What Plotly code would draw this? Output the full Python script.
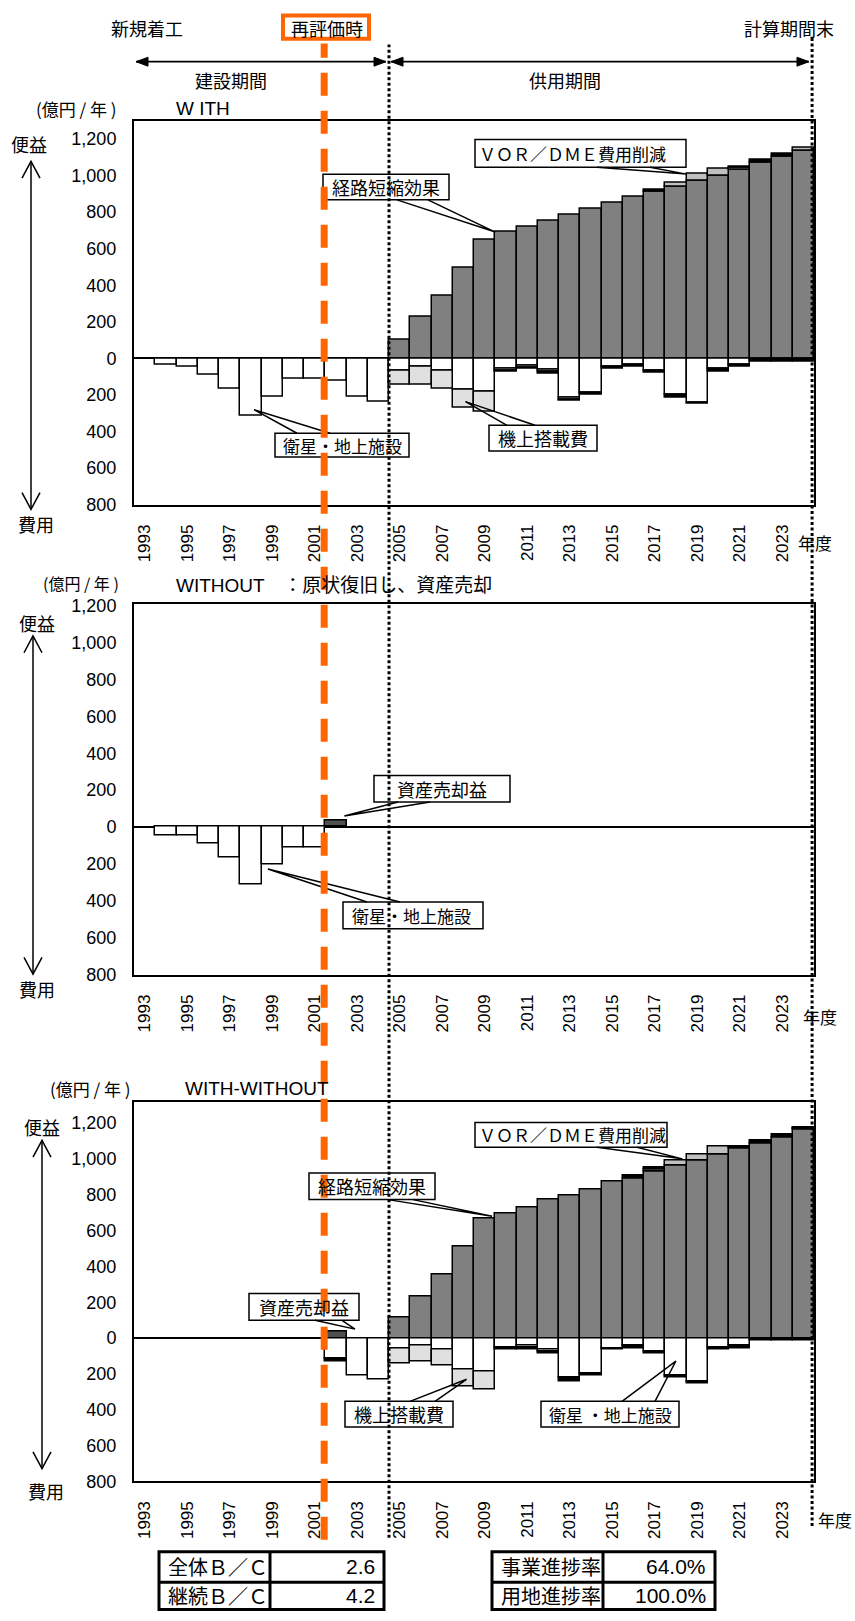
import plotly.graph_objects as go

W, H = 855, 1621

# ---------------- data ----------------
years = list(range(1993, 2025))
tick_years = list(range(1993, 2024, 2))
tick_labels = [str(y) for y in tick_years]
y_vals = [-800, -600, -400, -200, 0, 200, 400, 600, 800, 1000, 1200]
y_labels = ["800", "600", "400", "200", "0", "200", "400", "600", "800", "1,000", "1,200"]

# WITH
with_route = [0] * 12 + [105, 228, 345, 495, 647, 691, 723, 754, 786, 818, 851, 885,
                         910, 937, 970, 998, 1030, 1072, 1103, 1137]
with_vor = [0] * 25 + [25, 38, 42, 12, 0, 0, 15]
with_other_pos = [0] * 24 + [14, 0, 0, 0, 8, 14, 14, 0]
with_sat = [0, -35, -45, -88, -164, -315, -207, -110, -110, -120, -207, -238,
            -65, -45, -68, -173, -182, -54, -40, -62, -215, -190, -45, -32,
            -66, -200, -242, -57, -32, -6, -6, -6]
with_onboard = [0] * 12 + [-79, -99, -95, -99, -112, -12, -12, -12, -10] + [0] * 11
with_other_neg = [0] * 17 + [-5, -5, -8, -8, -10, -12, -12, -14, -14, -4, -14, -14, -14, -14, -14]

# WITHOUT
wo_sat = [0, -45, -45, -89, -164, -314, -204, -109, -109] + [0] * 23
wo_asset = [0] * 9 + [35] + [0] * 22

# WITH - WITHOUT
d_asset = [0] * 9 + [37] + [0] * 22
d_route = [0] * 12 + [114, 235, 357, 511, 665, 698, 730, 776, 796, 831, 873, 892,
                      928, 961, 993, 1024, 1057, 1088, 1121, 1162]
d_vor = [0] * 24 + [14, 28, 30, 45, 0, 0, 0, 10]
d_other_pos = [0] * 23 + [13, 8, 0, 0, 0, 14, 14, 16, 5]
d_sat = [0] * 9 + [-116, -208, -230] + [-55, -42, -64, -173, -186, -52, -42, -61, -221, -197,
                                        -55, -42, -73, -208, -239, -50, -42, 0, 0, 0]
d_onboard = [0] * 12 + [-86, -88, -88, -99, -99, 0, -12, -14] + [0] * 12
d_other_neg = [0] * 9 + [-14, 0, 0] + [0] * 5 + [-12, -8, -11, -18, -11, -9, -13, -13, -12,
                                                -13, -14, -13, -12, -12, -12]

# ---------------- style ----------------
JP = "Noto Sans CJK JP"
NUMF = "Liberation Sans, Arial, sans-serif"
MIX = "Liberation Sans, Noto Sans CJK JP"
C_ROUTE, C_VOR, C_OTHER = "#808080", "#c0c0c0", "#000000"
C_SAT, C_ONB, C_ASSET = "#ffffff", "#e0e0e0", "#505050"
ORANGE = "#ff6600"

X_L, X_R = 134.0, 814.0
X_LO, X_HI = 1992.5, 2024.5
PANELS = {
    1: dict(top=114.0, bottom=502.3, lo=-800, hi=1300),
    2: dict(top=602.3, bottom=977.7, lo=-800, hi=1210),
    3: dict(top=1106.7, bottom=1490.0, lo=-800, hi=1315),
}


def px(x):
    return x / W


def py(y):
    return 1 - y / H


def data_px(p, year, val):
    g = PANELS[p]
    x = X_L + (year - X_LO) / (X_HI - X_LO) * (X_R - X_L)
    y = g['bottom'] - (val - g['lo']) / (g['hi'] - g['lo']) * (g['bottom'] - g['top'])
    return x, y


def nz(a):
    return [None if v == 0 else v for v in a]


fig = go.Figure()


def add_bar(p, vals, color):
    ax = '' if p == 1 else str(p)
    fig.add_trace(go.Bar(x=years, y=nz(vals), width=1,
                         marker=dict(color=color, line=dict(color='black', width=1.5)),
                         xaxis='x' + ax, yaxis='y' + ax, showlegend=False, hoverinfo='skip'))


# panel 1
add_bar(1, with_route, C_ROUTE)
add_bar(1, with_vor, C_VOR)
add_bar(1, with_other_pos, C_OTHER)
add_bar(1, with_sat, C_SAT)
add_bar(1, with_onboard, C_ONB)
add_bar(1, with_other_neg, C_OTHER)
# panel 2
add_bar(2, wo_asset, C_ASSET)
add_bar(2, wo_sat, C_SAT)
# panel 3
add_bar(3, d_asset, C_ASSET)
add_bar(3, d_route, C_ROUTE)
add_bar(3, d_vor, C_VOR)
add_bar(3, d_other_pos, C_OTHER)
add_bar(3, d_sat, C_SAT)
add_bar(3, d_onboard, C_ONB)
add_bar(3, d_other_neg, C_OTHER)

layout = dict(width=W, height=H, autosize=False, margin=dict(l=0, r=0, t=0, b=0, pad=0),
              paper_bgcolor='white', plot_bgcolor='white', barmode='relative', bargap=0,
              showlegend=False)

for p in (1, 2, 3):
    g = PANELS[p]
    ax = '' if p == 1 else str(p)
    layout['xaxis' + ax] = dict(
        domain=[px(X_L), px(X_R)], range=[X_LO, X_HI], tickmode='array',
        tickvals=tick_years, ticktext=tick_labels, tickangle=-90,
        tickfont=dict(family=NUMF, size=17, color='black'),
        showline=True, mirror=True, linecolor='black', linewidth=2,
        ticks='outside', ticklen=11, tickcolor='rgba(0,0,0,0)',
        showgrid=False, zeroline=False, anchor='y' + ax, fixedrange=True)
    layout['yaxis' + ax] = dict(
        domain=[py(g['bottom']), py(g['top'])], range=[g['lo'], g['hi']],
        tickmode='array', tickvals=y_vals, ticktext=y_labels,
        tickfont=dict(family=NUMF, size=18, color='black'),
        showline=True, mirror=True, linecolor='black', linewidth=2,
        ticks='outside', ticklen=12, tickcolor='rgba(0,0,0,0)',
        showgrid=False, zeroline=True, zerolinecolor='black', zerolinewidth=2,
        anchor='x' + ax, fixedrange=True)

fig.update_layout(**layout)

shapes = []
annots = []


def txt(x, y, s, size=18, xanchor='center', family=JP):
    annots.append(dict(x=px(x), y=py(y), xref='paper', yref='paper', text=s, showarrow=False,
                       xanchor=xanchor, yanchor='middle',
                       font=dict(family=family, size=size, color='black')))


def path(pts, width=1.5, color='black', fill=None, close=False):
    d = "M " + " L ".join(f"{px(x):.5f},{py(y):.5f}" for x, y in pts)
    if close:
        d += " Z"
    s = dict(type='path', path=d, xref='paper', yref='paper', layer='above',
             line=dict(color=color, width=width))
    if fill:
        s['fillcolor'] = fill
    shapes.append(s)


def rect(x0, y0, x1, y1, width=1.5, color='black', fill='white'):
    shapes.append(dict(type='rect', xref='paper', yref='paper', x0=px(x0), x1=px(x1),
                       y0=py(y1), y1=py(y0), layer='above',
                       line=dict(color=color, width=width), fillcolor=fill))


# callouts: text, panel, box(px), text center x, bases(px), tip (year, value)
i_2010 = years.index(2010)
i_2019 = years.index(2019)
callouts = [
    ("経路短縮効果", 1, (323, 168, 449, 194), 386, [(397, 194), (428, 194)],
     (2009.5, with_route[i_2010]), 18),
    ("ＶＯＲ／ＤＭＥ費用削減", 1, (475, 133, 686, 161), 572, [(597, 161), (650, 161)],
     (2018.5, with_route[i_2019] + with_vor[i_2019]), 17),
    ("衛星・地上施設", 1, (275, 430, 409, 454), 342, [(297, 430), (330, 430)],
     (1998.15, -280), 17),
    ("機上搭載費", 1, (489, 422, 597, 448), 543, [(507, 422), (535, 422)],
     (2008.1, -236), 18),
    ("資産売却益", 2, (374, 776, 510, 803), 442, [(398, 803), (430, 803)],
     (2002.4, 60), 18),
    ("衛星・地上施設", 2, (343, 904, 483, 931), 411, [(367, 904), (400, 904)],
     (1998.8, -227), 17),
    ("ＶＯＲ／ＤＭＥ費用削減", 3, (475, 1127, 667, 1152), 572, [(597, 1152), (637, 1152)],
     (2018.3, 1000), 17),
    ("経路短縮効果", 3, (309, 1178, 435, 1205), 372, [(388, 1205), (413, 1205)],
     (2009.35, 680), 18),
    ("資産売却益", 3, (249, 1300, 359, 1327), 304, [(315, 1327), (342, 1327)],
     (2002.9, 50), 18),
    ("機上搭載費", 3, (345, 1409, 453, 1435), 399, [(410, 1409), (435, 1409)],
     (2008.15, -230), 18),
    ("衛星 ・地上施設", 3, (541, 1409, 679, 1435), 610, [(622, 1409), (655, 1409)],
     (2018.0, -128), 17),
]
for text, p, box, tcx, bases, tip, fs in callouts:
    rect(*box)
    tx, ty = data_px(p, *tip)
    path([bases[0], (tx, ty), bases[1]])
    txt(tcx, (box[1] + box[3]) / 2, text, size=fs)


# vertical guide lines through all panels (x in year units of the shared x scale)
def vline(year, ytop, ybot, color, width, dash):
    shapes.append(dict(type='line', xref='x', yref='paper', x0=year, x1=year,
                       y0=py(ybot), y1=py(ytop), layer='above',
                       line=dict(color=color, width=width, dash=dash)))


vline(1992.41, 39, 1540, 'black', 3, '3px,2.5px')
vline(2004.5, 37, 1547, 'black', 3, '3px,2.5px')
vline(2024.41, 30, 1535, 'black', 3, '3px,2.5px')
vline(2001.45, 36, 1549, ORANGE, 7, '23px,15px')

# orange label box
rect(283, 7.5, 369, 31, width=4, color=ORANGE, fill='white')
txt(327, 20, "再評価時", 18)
txt(147, 20, "新規着工", 18)
txt(789, 20, "計算期間末", 18)


# period double arrows
def harrow(x0, x1, y):
    path([(x0, y), (x1, y)], width=1.8)
    hl, hw = 12, 4.5
    path([(x0, y), (x0 + hl, y - hw), (x0 + hl, y + hw)], width=1, fill='black', close=True)
    path([(x1, y), (x1 - hl, y - hw), (x1 - hl, y + hw)], width=1, fill='black', close=True)


harrow(136, 386, 54.3)
harrow(391, 809, 54.3)
txt(231, 73, "建設期間", 18)
txt(565, 73, "供用期間", 18)


# benefit / cost arrows
def varrow(x, ytop, ybot):
    path([(x, ytop), (x, ybot)], width=1.5)
    path([(x - 9, ytop + 17), (x, ytop), (x + 9, ytop + 17)], width=1.5)
    path([(x - 9, ybot - 17), (x, ybot), (x + 9, ybot - 17)], width=1.5)


varrow(31, 155, 507)
txt(29, 138, "便益", 18)
txt(36, 522, "費用", 18)
varrow(33, 635, 977)
txt(37, 622, "便益", 18)
txt(37, 992, "費用", 18)
varrow(42, 1145, 1477)
txt(42, 1132, "便益", 18)
txt(46, 1500, "費用", 18)

# panel titles
txt(76, 102, "(億円 / 年 )", 17)
txt(174, 102, "W ITH", 19, xanchor='left', family=MIX)
txt(81, 581, "(億円 / 年 )", 16)
txt(174, 584, "WITHOUT　：原状復旧し、資産売却", 19, xanchor='left', family=MIX)
txt(90, 1093, "(億円 / 年 )", 17)
txt(183, 1093, "WITH-WITHOUT", 19, xanchor='left', family=MIX)

# year unit labels
txt(815, 540, "年度", 17)
txt(820, 1020, "年度", 17)
txt(835, 1528, "年度", 17)

# summary tables
table_left = [("全体Ｂ／Ｃ", "2.6"), ("継続Ｂ／Ｃ", "4.2")]
table_right = [("事業進捗率", "64.0%"), ("用地進捗率", "100.0%")]


def table(x0, xm, x1, rows):
    y0, ym, y1 = 1561, 1592, 1619.5
    rect(x0, y0, x1, y1, width=3)
    path([(xm, y0), (xm, y1)], width=3)
    path([(x0, ym), (x1, ym)], width=3)
    for (lab, val), yc in zip(rows, [(y0 + ym) / 2, (ym + y1) / 2]):
        txt(x0 + 7, yc, lab, 20, xanchor='left')
        txt(x1 - 7, yc, val, 21, xanchor='right', family=NUMF)


table(159, 270, 384, table_left)
table(492, 603, 715, table_right)

fig.update_layout(shapes=shapes, annotations=annots)
fig.write_html("out.html")
